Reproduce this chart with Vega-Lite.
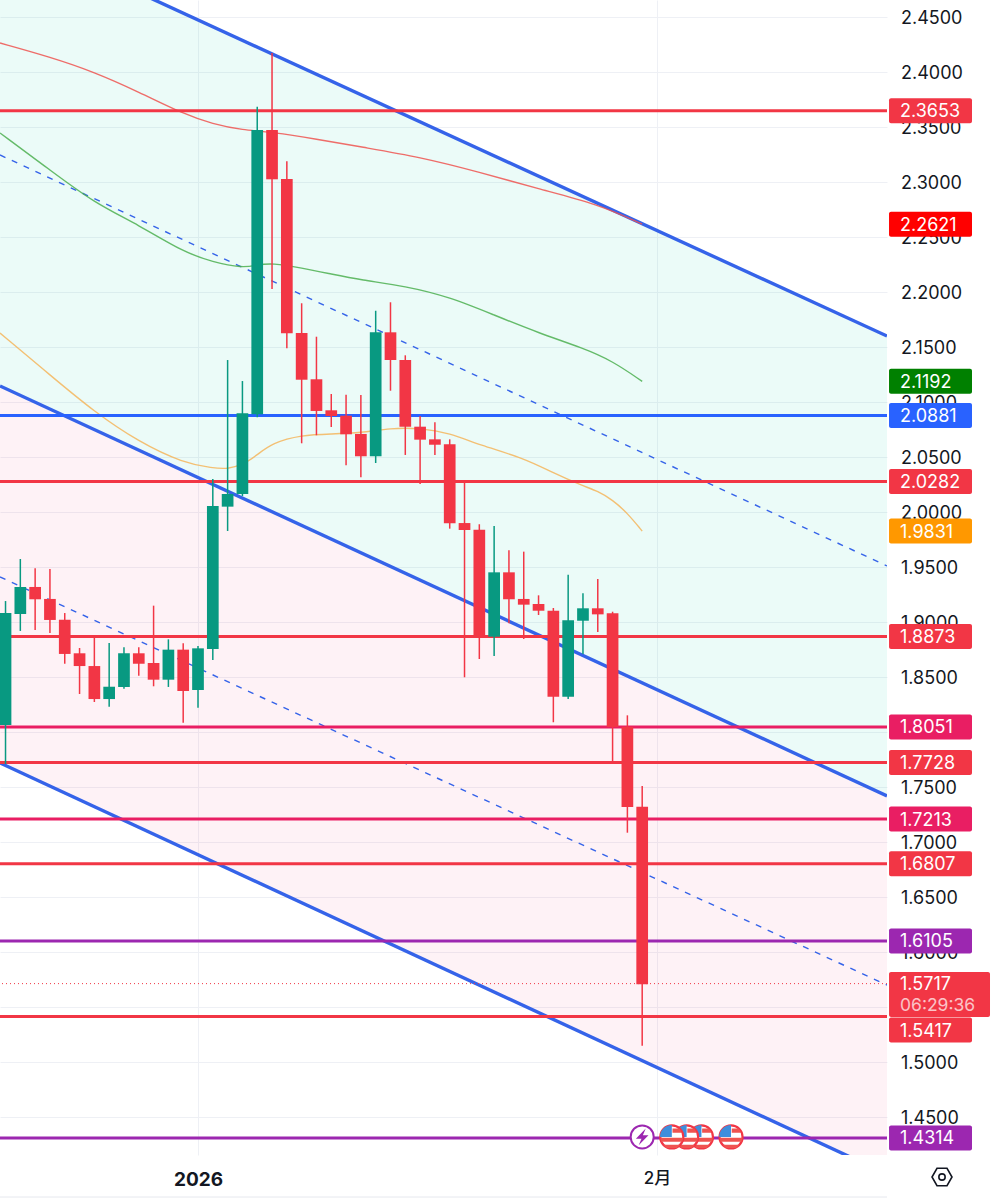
{"$schema":"https://vega.github.io/schema/vega-lite/v6.json","width":887,"height":1155,"autosize":{"type":"none"},"padding":{"left":0,"top":0,"right":109,"bottom":45},"background":"#ffffff","config":{"view":{"stroke":null},"font":"Inter"},
"datasets":{
"channel":[{"date":"2025-12-18T15:03:00Z","upper":2.5304,"middle":2.1150,"lower":1.7723,"dashUpper":2.3250,"dashLower":1.9414},{"date":"2026-02-16T12:49:00Z","upper":2.1604,"middle":1.7423,"lower":1.3986,"dashUpper":1.9514,"dashLower":1.5704}],
"ma":[
{"date":"2025-12-18T15:03:00Z","series":"ma200","value":2.4268},{"date":"2025-12-22","series":"ma200","value":2.4141},{"date":"2025-12-25","series":"ma200","value":2.4004},{"date":"2025-12-28","series":"ma200","value":2.3823},{"date":"2025-12-31","series":"ma200","value":2.3623},{"date":"2026-01-02","series":"ma200","value":2.3532},{"date":"2026-01-04","series":"ma200","value":2.3477},{"date":"2026-01-06","series":"ma200","value":2.3459},{"date":"2026-01-09","series":"ma200","value":2.3395},{"date":"2026-01-12","series":"ma200","value":2.3323},{"date":"2026-01-16","series":"ma200","value":2.3232},{"date":"2026-01-20","series":"ma200","value":2.3095},{"date":"2026-01-24","series":"ma200","value":2.2941},{"date":"2026-01-28","series":"ma200","value":2.2804},{"date":"2026-01-31","series":"ma200","value":2.2621},
{"date":"2025-12-18T15:03:00Z","series":"ma100","value":2.3450},{"date":"2025-12-22","series":"ma100","value":2.3114},{"date":"2025-12-25","series":"ma100","value":2.2814},{"date":"2025-12-28","series":"ma100","value":2.2614},{"date":"2025-12-31","series":"ma100","value":2.2368},{"date":"2026-01-02","series":"ma100","value":2.2277},{"date":"2026-01-04","series":"ma100","value":2.2223},{"date":"2026-01-05","series":"ma100","value":2.2250},{"date":"2026-01-06","series":"ma100","value":2.2268},{"date":"2026-01-08","series":"ma100","value":2.2223},{"date":"2026-01-10","series":"ma100","value":2.2168},{"date":"2026-01-12","series":"ma100","value":2.2114},{"date":"2026-01-15","series":"ma100","value":2.2059},{"date":"2026-01-18","series":"ma100","value":2.1959},{"date":"2026-01-21","series":"ma100","value":2.1795},{"date":"2026-01-24","series":"ma100","value":2.1632},{"date":"2026-01-27","series":"ma100","value":2.1495},{"date":"2026-01-29","series":"ma100","value":2.1377},{"date":"2026-01-31","series":"ma100","value":2.1192},
{"date":"2025-12-18T15:03:00Z","series":"ma50","value":2.1632},{"date":"2025-12-22","series":"ma50","value":2.1250},{"date":"2025-12-25","series":"ma50","value":2.0914},{"date":"2025-12-28","series":"ma50","value":2.0641},{"date":"2025-12-31","series":"ma50","value":2.0450},{"date":"2026-01-02","series":"ma50","value":2.0404},{"date":"2026-01-03","series":"ma50","value":2.0395},{"date":"2026-01-04","series":"ma50","value":2.0432},{"date":"2026-01-05","series":"ma50","value":2.0523},{"date":"2026-01-06","series":"ma50","value":2.0632},{"date":"2026-01-08","series":"ma50","value":2.0705},{"date":"2026-01-10","series":"ma50","value":2.0714},{"date":"2026-01-12","series":"ma50","value":2.0723},{"date":"2026-01-14","series":"ma50","value":2.0768},{"date":"2026-01-16","series":"ma50","value":2.0768},{"date":"2026-01-18","series":"ma50","value":2.0723},{"date":"2026-01-20","series":"ma50","value":2.0614},{"date":"2026-01-23","series":"ma50","value":2.0495},{"date":"2026-01-25","series":"ma50","value":2.0359},{"date":"2026-01-27","series":"ma50","value":2.0241},{"date":"2026-01-28","series":"ma50","value":2.0195},{"date":"2026-01-29","series":"ma50","value":2.0114},{"date":"2026-01-30","series":"ma50","value":1.9995},{"date":"2026-01-31","series":"ma50","value":1.9831}],
"levels":[
{"label":"2.3653","value":2.3653,"tagAt":2.3653,"kind":"red","line":true},
{"label":"2.2621","value":2.2621,"tagAt":2.2621,"kind":"tagRed","line":false},
{"label":"2.1192","value":2.1192,"tagAt":2.1192,"kind":"tagGreen","line":false},
{"label":"2.0881","value":2.0881,"tagAt":2.0881,"kind":"blue","line":true},
{"label":"2.0282","value":2.0282,"tagAt":2.0282,"kind":"red","line":true},
{"label":"1.9831","value":1.9831,"tagAt":1.9831,"kind":"tagOrange","line":false},
{"label":"1.8873","value":1.8873,"tagAt":1.8873,"kind":"red","line":true},
{"label":"1.8051","value":1.8051,"tagAt":1.8051,"kind":"crimson","line":true},
{"label":"1.7728","value":1.7728,"tagAt":1.7728,"kind":"red","line":true},
{"label":"1.7213","value":1.7213,"tagAt":1.7213,"kind":"crimson","line":true},
{"label":"1.6807","value":1.6807,"tagAt":1.6807,"kind":"red","line":true},
{"label":"1.6105","value":1.6105,"tagAt":1.6105,"kind":"purple","line":true},
{"label":"1.5417","value":1.5417,"tagAt":1.5295,"kind":"red","line":true},
{"label":"1.4314","value":1.4314,"tagAt":1.4314,"kind":"purple","line":true}],
"candles":[
{"date":"2025-12-19","open":1.8068,"high":1.9195,"low":1.7714,"close":1.9086},
{"date":"2025-12-20","open":1.9077,"high":1.9577,"low":1.8923,"close":1.9323},
{"date":"2025-12-21","open":1.9323,"high":1.9493,"low":1.8932,"close":1.9211},
{"date":"2025-12-22","open":1.9214,"high":1.9486,"low":1.8904,"close":1.9023},
{"date":"2025-12-23","open":1.9025,"high":1.9086,"low":1.8625,"close":1.8714},
{"date":"2025-12-24","open":1.8720,"high":1.8768,"low":1.8350,"close":1.8604},
{"date":"2025-12-25","open":1.8604,"high":1.8868,"low":1.8277,"close":1.8304},
{"date":"2025-12-26","open":1.8304,"high":1.8814,"low":1.8234,"close":1.8416},
{"date":"2025-12-27","open":1.8414,"high":1.8774,"low":1.8398,"close":1.8720},
{"date":"2025-12-28","open":1.8720,"high":1.8774,"low":1.8516,"close":1.8625},
{"date":"2025-12-29","open":1.8632,"high":1.9153,"low":1.8420,"close":1.8480},
{"date":"2025-12-30","open":1.8480,"high":1.8847,"low":1.8414,"close":1.8753},
{"date":"2025-12-31","open":1.8753,"high":1.8811,"low":1.8089,"close":1.8377},
{"date":"2026-01-01","open":1.8386,"high":1.8786,"low":1.8225,"close":1.8765},
{"date":"2026-01-02","open":1.8759,"high":2.0304,"low":1.8659,"close":2.0059},
{"date":"2026-01-03","open":2.0053,"high":2.1386,"low":1.9832,"close":2.0168},
{"date":"2026-01-04","open":2.0168,"high":2.1195,"low":2.0150,"close":2.0902},
{"date":"2026-01-05","open":2.0893,"high":2.3689,"low":2.0865,"close":2.3477},
{"date":"2026-01-06","open":2.3477,"high":2.4177,"low":2.2032,"close":2.3029},
{"date":"2026-01-07","open":2.3032,"high":2.3193,"low":2.1493,"close":2.1629},
{"date":"2026-01-08","open":2.1632,"high":2.1902,"low":2.0629,"close":2.1207},
{"date":"2026-01-09","open":2.1211,"high":2.1598,"low":2.0702,"close":2.0923},
{"date":"2026-01-10","open":2.0929,"high":2.1077,"low":2.0777,"close":2.0877},
{"date":"2026-01-11","open":2.0880,"high":2.1071,"low":2.0429,"close":2.0711},
{"date":"2026-01-12","open":2.0714,"high":2.1068,"low":2.0320,"close":2.0511},
{"date":"2026-01-13","open":2.0511,"high":2.1834,"low":2.0450,"close":2.1638},
{"date":"2026-01-14","open":2.1638,"high":2.1911,"low":2.1107,"close":2.1386},
{"date":"2026-01-15","open":2.1386,"high":2.1429,"low":2.0523,"close":2.0780},
{"date":"2026-01-16","open":2.0780,"high":2.0877,"low":2.0259,"close":2.0662},
{"date":"2026-01-17","open":2.0665,"high":2.0820,"low":2.0523,"close":2.0616},
{"date":"2026-01-18","open":2.0620,"high":2.0665,"low":1.9853,"close":1.9902},
{"date":"2026-01-19","open":1.9904,"high":2.0268,"low":1.8502,"close":1.9841},
{"date":"2026-01-20","open":1.9844,"high":1.9893,"low":1.8668,"close":1.8877},
{"date":"2026-01-21","open":1.8871,"high":1.9877,"low":1.8695,"close":1.9456},
{"date":"2026-01-22","open":1.9456,"high":1.9656,"low":1.8993,"close":1.9211},
{"date":"2026-01-23","open":1.9214,"high":1.9644,"low":1.8850,"close":1.9162},
{"date":"2026-01-24","open":1.9168,"high":1.9247,"low":1.9068,"close":1.9107},
{"date":"2026-01-25","open":1.9107,"high":1.9132,"low":1.8093,"close":1.8325},
{"date":"2026-01-26","open":1.8325,"high":1.9434,"low":1.8304,"close":1.9020},
{"date":"2026-01-27","open":1.9016,"high":1.9265,"low":1.8714,"close":1.9129},
{"date":"2026-01-28","open":1.9129,"high":1.9395,"low":1.8914,"close":1.9074},
{"date":"2026-01-29","open":1.9084,"high":1.9098,"low":1.7741,"close":1.8050},
{"date":"2026-01-30","open":1.8053,"high":1.8156,"low":1.7089,"close":1.7323},
{"date":"2026-01-31","open":1.7325,"high":1.7514,"low":1.5153,"close":1.5711}]
},
"layer":[
{"data":{"name":"channel"},"mark":{"type":"area","clip":true,"color":"#00C9A0","opacity":0.08},"encoding":{"x":{"field":"date","type":"temporal","title":null,"scale":{"type":"utc","padding":0,"domain":[1766070172800,1771246137600]},"axis":{"values":[1767225600000,1769904000000],"title":null,"domain":false,"ticks":false,"grid":true,"gridColor":"#eef0f5","gridWidth":1,"labelExpr":"utcmonth(datum.value)==0?'2026':'2月'","labelFont":"Inter, Noto Sans CJK JP","labelFontSize":{"condition":{"test":"utcmonth(datum.value)==0","value":19},"value":17},"labelColor":"#131722","labelPadding":15,"labelFontWeight":{"condition":{"test":"utcmonth(datum.value)==0","value":"bold"},"value":500}}},"y":{"field":"upper","type":"quantitative","title":null,"scale":{"domain":[1.4159,2.4659],"nice":false,"zero":false,"padding":0},"axis":{"orient":"right","values":[1.45,1.5,1.55,1.6,1.65,1.7,1.75,1.8,1.85,1.9,1.95,2.0,2.05,2.1,2.15,2.2,2.25,2.3,2.35,2.4,2.45],"format":".4f","title":null,"domain":false,"ticks":false,"grid":true,"gridColor":"#eef0f5","gridWidth":1,"labelFontSize":18,"labelColor":"#131722","labelPadding":13.5,"labelOffset":1.5,"labelFont":"Inter"}},"y2":{"field":"middle"}}},
{"data":{"name":"channel"},"mark":{"type":"area","clip":true,"color":"#E91E63","opacity":0.06},"encoding":{"x":{"field":"date","type":"temporal","title":null},"y":{"field":"middle","type":"quantitative","title":null,"axis":{"orient":"right"}},"y2":{"field":"lower"}}},
{"data":{"name":"channel"},"mark":{"type":"line","clip":true,"color":"#3563E9","strokeWidth":3.4},"encoding":{"x":{"field":"date","type":"temporal","title":null},"y":{"field":"upper","type":"quantitative","title":null,"axis":{"orient":"right"}}}},
{"data":{"name":"channel"},"mark":{"type":"line","clip":true,"color":"#3563E9","strokeWidth":3.4},"encoding":{"x":{"field":"date","type":"temporal","title":null},"y":{"field":"middle","type":"quantitative","title":null,"axis":{"orient":"right"}}}},
{"data":{"name":"channel"},"mark":{"type":"line","clip":true,"color":"#3563E9","strokeWidth":3.4},"encoding":{"x":{"field":"date","type":"temporal","title":null},"y":{"field":"lower","type":"quantitative","title":null,"axis":{"orient":"right"}}}},
{"data":{"name":"channel"},"mark":{"type":"line","clip":true,"color":"#3563E9","strokeWidth":1.4,"strokeDash":[6,7]},"encoding":{"x":{"field":"date","type":"temporal","title":null},"y":{"field":"dashUpper","type":"quantitative","title":null,"axis":{"orient":"right"}}}},
{"data":{"name":"channel"},"mark":{"type":"line","clip":true,"color":"#3563E9","strokeWidth":1.4,"strokeDash":[6,7]},"encoding":{"x":{"field":"date","type":"temporal","title":null},"y":{"field":"dashLower","type":"quantitative","title":null,"axis":{"orient":"right"}}}},
{"data":{"name":"ma"},"mark":{"type":"line","clip":true,"strokeWidth":1.4,"interpolate":"basis","opacity":0.85},"encoding":{"x":{"field":"date","type":"temporal","title":null},"y":{"field":"value","type":"quantitative","title":null,"axis":{"orient":"right"}},"color":{"field":"series","type":"nominal","legend":null,"scale":{"domain":["ma200","ma100","ma50","red","crimson","purple","blue","tagRed","tagGreen","tagOrange"],"range":["#EF5350","#4CAF50","#F5B55C","#F23645","#E91E63","#9C27B0","#2962FF","#FF0000","#008000","#FF9800"]}}}},
{"data":{"name":"levels"},"transform":[{"filter":"datum.line"}],"mark":{"type":"rule","strokeWidth":3},"encoding":{"y":{"field":"value","type":"quantitative","title":null,"axis":{"orient":"right"}},"color":{"field":"kind","type":"nominal","legend":null}}},
{"data":{"values":[{"price":1.5717}]},"mark":{"type":"rule","color":"#F23645","strokeWidth":1,"strokeDash":[1,3]},"encoding":{"y":{"field":"price","type":"quantitative","title":null,"axis":{"orient":"right"}}}},
{"data":{"name":"candles"},"mark":{"type":"rule","clip":true,"strokeWidth":1.5},"encoding":{"x":{"field":"date","type":"temporal","title":null},"y":{"field":"low","type":"quantitative","title":null,"axis":{"orient":"right"}},"y2":{"field":"high"},"color":{"condition":{"test":"datum.close>datum.open","value":"#089981"},"value":"#F23645"}}},
{"data":{"name":"candles"},"mark":{"type":"bar","clip":true,"width":11.7},"encoding":{"x":{"field":"date","type":"temporal","title":null},"y":{"field":"open","type":"quantitative","title":null,"axis":{"orient":"right"}},"y2":{"field":"close"},"color":{"condition":{"test":"datum.close>datum.open","value":"#089981"},"value":"#F23645"}}},
{"data":{"name":"levels"},"mark":{"type":"bar","height":25,"orient":"horizontal","cornerRadius":2},"encoding":{"x":{"datum":1771258000000,"type":"temporal","title":null},"x2":{"datum":1771742160000},"y":{"field":"tagAt","type":"quantitative","title":null,"axis":{"orient":"right"}},"color":{"field":"kind","type":"nominal","legend":null}}},
{"data":{"values":[{"center":1.5618}]},"mark":{"type":"bar","height":45,"orient":"horizontal","cornerRadius":2,"color":"#F23645"},"encoding":{"x":{"datum":1771258000000,"type":"temporal","title":null},"x2":{"datum":1771847207000},"y":{"field":"center","type":"quantitative","title":null,"axis":{"orient":"right"}}}},
{"data":{"name":"levels"},"mark":{"type":"text","align":"left","baseline":"middle","color":"#ffffff","fontSize":18,"dy":1.5,"font":"Inter"},"encoding":{"x":{"datum":1771322000000,"type":"temporal","title":null},"y":{"field":"tagAt","type":"quantitative","title":null,"axis":{"orient":"right"}},"text":{"field":"label"}}},
{"data":{"values":[{"at":1.5717,"label":"1.5717"}]},"mark":{"type":"text","align":"left","baseline":"middle","color":"#ffffff","fontSize":18,"dy":1.5,"font":"Inter"},"encoding":{"x":{"datum":1771322000000,"type":"temporal","title":null},"y":{"field":"at","type":"quantitative","title":null,"axis":{"orient":"right"}},"text":{"field":"label"}}},
{"data":{"values":[{"at":1.5523,"label":"06:29:36"}]},"mark":{"type":"text","align":"left","baseline":"middle","color":"#ffffff","opacity":0.7,"fontSize":17.5,"dy":1,"font":"Inter"},"encoding":{"x":{"datum":1771322000000,"type":"temporal","title":null},"y":{"field":"at","type":"quantitative","title":null,"axis":{"orient":"right"}},"text":{"field":"label"}}},
{"data":{"values":[{"date":"2026-01-31","at":1.4323}]},"encoding":{"x":{"field":"date","type":"temporal","title":null},"y":{"field":"at","type":"quantitative","title":null,"axis":{"orient":"right"}}},"layer":[{"mark":{"type":"point","shape":"circle","filled":true,"fill":"#ffffff","stroke":"#9C27B0","strokeWidth":2,"size":531,"opacity":1}},{"mark":{"type":"point","shape":"M0.25,-0.6L-0.45,0.12L-0.05,0.12L-0.25,0.6L0.45,-0.12L0.05,-0.12Z","filled":true,"fill":"#9C27B0","size":784,"opacity":1,"strokeWidth":0}}]},
{"data":{"values":[{"date":"2026-02-04","at":1.4323}]},"encoding":{"x":{"field":"date","type":"temporal","title":null},"y":{"field":"at","type":"quantitative","title":null,"axis":{"orient":"right"}}},"layer":[{"mark":{"type":"point","shape":"circle","filled":true,"fill":"#ffffff","stroke":"#F23645","strokeWidth":2.2,"size":531,"opacity":1}},{"mark":{"type":"point","shape":"M0.05,-0.6H0.55L0.72,-0.3H0.05ZM-0.82,0.05H0.82L0.75,0.35H-0.75ZM-0.6,0.55H0.6L0.35,0.78H-0.35Z","filled":true,"fill":"#EF5350","size":784,"opacity":1,"strokeWidth":0}},{"mark":{"type":"point","shape":"M0,-0.85V0H-0.85A0.85,0.85 0 0 1 0,-0.85Z","filled":true,"fill":"#3F8EDC","size":784,"opacity":1,"strokeWidth":0}}]},
{"data":{"values":[{"date":"2026-02-03","at":1.4323}]},"encoding":{"x":{"field":"date","type":"temporal","title":null},"y":{"field":"at","type":"quantitative","title":null,"axis":{"orient":"right"}}},"layer":[{"mark":{"type":"point","shape":"circle","filled":true,"fill":"#ffffff","stroke":"#F23645","strokeWidth":2.2,"size":531,"opacity":1}},{"mark":{"type":"point","shape":"M0.05,-0.6H0.55L0.72,-0.3H0.05ZM-0.82,0.05H0.82L0.75,0.35H-0.75ZM-0.6,0.55H0.6L0.35,0.78H-0.35Z","filled":true,"fill":"#EF5350","size":784,"opacity":1,"strokeWidth":0}},{"mark":{"type":"point","shape":"M0,-0.85V0H-0.85A0.85,0.85 0 0 1 0,-0.85Z","filled":true,"fill":"#3F8EDC","size":784,"opacity":1,"strokeWidth":0}}]},
{"data":{"values":[{"date":"2026-02-02","at":1.4323}]},"encoding":{"x":{"field":"date","type":"temporal","title":null},"y":{"field":"at","type":"quantitative","title":null,"axis":{"orient":"right"}}},"layer":[{"mark":{"type":"point","shape":"circle","filled":true,"fill":"#ffffff","stroke":"#F23645","strokeWidth":2.2,"size":531,"opacity":1}},{"mark":{"type":"point","shape":"M0.05,-0.6H0.55L0.72,-0.3H0.05ZM-0.82,0.05H0.82L0.75,0.35H-0.75ZM-0.6,0.55H0.6L0.35,0.78H-0.35Z","filled":true,"fill":"#EF5350","size":784,"opacity":1,"strokeWidth":0}},{"mark":{"type":"point","shape":"M0,-0.85V0H-0.85A0.85,0.85 0 0 1 0,-0.85Z","filled":true,"fill":"#3F8EDC","size":784,"opacity":1,"strokeWidth":0}}]},
{"data":{"values":[{"date":"2026-02-06","at":1.4323}]},"encoding":{"x":{"field":"date","type":"temporal","title":null},"y":{"field":"at","type":"quantitative","title":null,"axis":{"orient":"right"}}},"layer":[{"mark":{"type":"point","shape":"circle","filled":true,"fill":"#ffffff","stroke":"#F23645","strokeWidth":2.2,"size":531,"opacity":1}},{"mark":{"type":"point","shape":"M0.05,-0.6H0.55L0.72,-0.3H0.05ZM-0.82,0.05H0.82L0.75,0.35H-0.75ZM-0.6,0.55H0.6L0.35,0.78H-0.35Z","filled":true,"fill":"#EF5350","size":784,"opacity":1,"strokeWidth":0}},{"mark":{"type":"point","shape":"M0,-0.85V0H-0.85A0.85,0.85 0 0 1 0,-0.85Z","filled":true,"fill":"#3F8EDC","size":784,"opacity":1,"strokeWidth":0}}]},
{"data":{"values":[{"at":1.3959}]},"encoding":{"x":{"datum":1771567097600,"type":"temporal","title":null},"y":{"field":"at","type":"quantitative","title":null,"axis":{"orient":"right"}}},"layer":[{"mark":{"type":"point","shape":"M-0.5,-0.87L0.5,-0.87L1,0L0.5,0.87L-0.5,0.87L-1,0Z","stroke":"#131722","strokeWidth":1.6,"size":400,"fill":null,"opacity":1}},{"mark":{"type":"point","shape":"circle","stroke":"#131722","strokeWidth":1.6,"size":40,"opacity":1}}]},
{"data":{"values":[{"at":1.3777}]},"mark":{"type":"rule","color":"#e6e8ee","strokeWidth":1},"encoding":{"y":{"field":"at","type":"quantitative","title":null,"axis":{"orient":"right"}}}}
]}
